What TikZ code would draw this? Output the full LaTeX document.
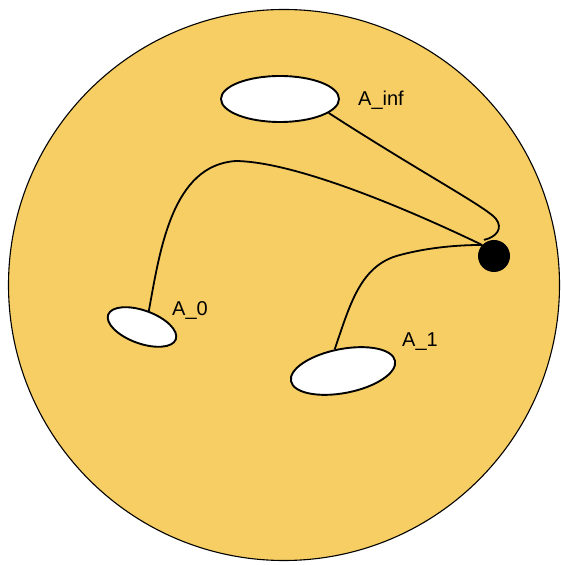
\documentclass[tikz,border=0pt]{standalone}
\usepackage{fontspec}
\setmainfont{Liberation Sans}
\usetikzlibrary{shapes.geometric,calc}
\definecolor{disk}{HTML}{F7CE64}
\tikzset{
  hole/.style={ellipse,draw=black,fill=white,line width=1.9pt,inner sep=0pt},
  link/.style={draw=black,line width=1.8pt},
  lbl/.style={anchor=base west,inner sep=0pt,font=\fontsize{20}{23}\selectfont}
}
\begin{document}
\begin{tikzpicture}[x=1pt,y=1pt]
\useasboundingbox (0,0) rectangle (561,565);
\node[circle,draw=black,fill=disk,line width=1.1pt,minimum size=551pt,inner sep=0pt] (disk) at (284,280) {};
\node[hole,minimum width=118pt,minimum height=46pt] (ainf) at (280,466) {};
\node[hole,minimum width=72pt,minimum height=33pt,rotate=-20] (a0) at (142,238) {};
\node[hole,minimum width=106pt,minimum height=44pt,rotate=11] (a1) at (343,194) {};
\node[circle,fill=black,minimum size=32pt,inner sep=0pt] (dot) at (494,309) {};
\node[lbl] (linf) at (358,459) {A\_inf};
\node[lbl] (l0) at (172,249) {A\_0};
\node[lbl] (l1) at (402,218) {A\_1};
\coordinate (hookend) at ($(dot.center)+(122:19)$);
\draw[link] (ainf.-16) .. controls (420,393) and (488,357) .. (496,346)
  .. controls (503,337) and (497,328) .. (hookend);
\draw[link] (a0.87) .. controls (160,315) and (172,400) .. (236,404)
  .. controls (300,403) and (420,350) .. (dot.137);
\draw[link] (a1.100) .. controls (350,260) and (360,300) .. (400,310)
  .. controls (430,318) and (460,320) .. (dot.137);
\end{tikzpicture}
\end{document}
